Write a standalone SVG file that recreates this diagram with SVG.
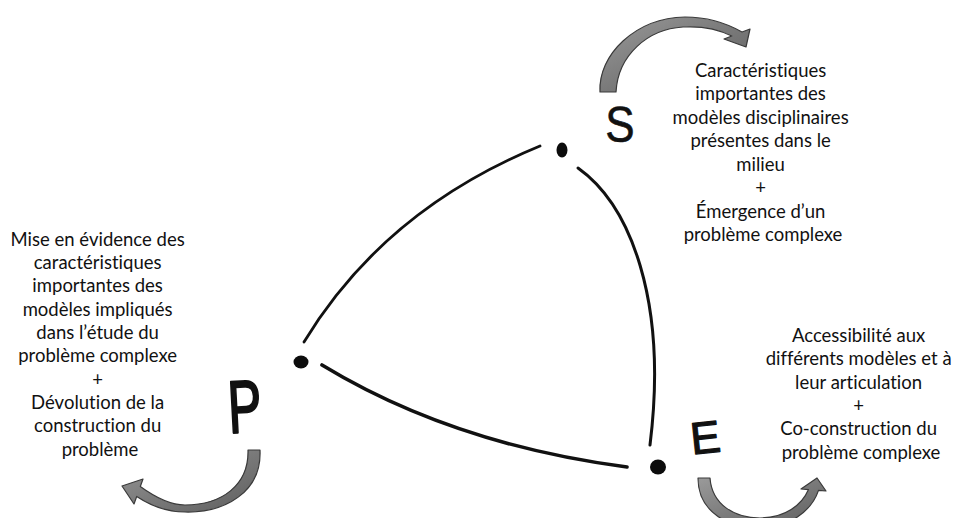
<svg xmlns="http://www.w3.org/2000/svg" width="957" height="518" viewBox="0 0 957 518">
<defs>
<linearGradient id="arrowFill" x1="0" y1="0" x2="1" y2="1">
<stop offset="0" stop-color="#9a9a9a"/>
<stop offset="0.5" stop-color="#7a7a7a"/>
<stop offset="1" stop-color="#5e5e5e"/>
</linearGradient>
</defs>
<style>
.lbl{font-family:Lato,"Open Sans","Liberation Sans",sans-serif;font-size:18.5px;fill:#111;text-anchor:middle;font-variant-ligatures:none}
.edge{fill:none;stroke:#111;stroke-linecap:round}
.dot{fill:#0c0c0c}
.cyc{fill:url(#arrowFill);stroke:#3a3a3a;stroke-width:1.2;stroke-linejoin:round}
.letter{font-family:"Liberation Sans",Arial,sans-serif;fill:#111;stroke:#111;stroke-linejoin:round;text-anchor:middle}
</style>
<rect width="957" height="518" fill="#ffffff"/>

<g id="connectors">
<path class="edge" stroke-width="2.8" d="M540,146 Q384,210 304,342"/>
<path class="edge" stroke-width="3" d="M578,168 C630,205 668,300 650,445"/>
<path class="edge" stroke-width="3.6" d="M322,365 Q452,444 627,467"/>
</g>

<g id="cycle-arrows">
<path class="cyc" d="M600,92 C598,55 635,18 685,17 C708,17 728,24 742,32 L750,29 L746,47 L724,39 L731.8,36 C718,29 700,26 683,27 C648,29 618,55 616,92 Z"/>
<path class="cyc" d="M260,450 C262,492 225,513 185,512 C165,512 148,504 136.7,496.5 L134,504 L122,486 L143,479 L140.3,486.5 C152,495 168,505 185,505 C222,505 249,485 248,450 Z"/>
<path class="cyc" d="M698,478 C698,512 728,528 760,528 C790,528 812,510 818.5,490.4 L826,491 L817,478 L801,489 L808.5,489.6 C802,505 785,518 760,518 C735,518 712,505 710,478 Z"/>
</g>

<g id="node-S">
<ellipse class="dot" cx="562" cy="150" rx="5.5" ry="7.5"/>
<text class="letter" font-size="50" stroke-width="0.6" transform="translate(620,142) scale(0.88,1)">S</text>
<text class="lbl">
<tspan x="763" y="76.5">Caractéristiques</tspan>
<tspan x="763" y="100">importantes des</tspan>
<tspan x="763" y="123.5">modèles disciplinaires</tspan>
<tspan x="763" y="147">présentes dans le</tspan>
<tspan x="763" y="170.5">milieu</tspan>
<tspan x="763" y="194">+</tspan>
<tspan x="763" y="217.5">Émergence d’un</tspan>
<tspan x="763" y="241">problème complexe</tspan>
</text>
</g>

<g id="node-P">
<ellipse class="dot" cx="301" cy="362" rx="7.5" ry="6.5"/>
<text class="letter" font-size="74" stroke-width="2.2" transform="translate(246,432) rotate(-3) scale(0.68,1)">P</text>
<text class="lbl">
<tspan x="100" y="245.5">Mise en évidence des</tspan>
<tspan x="100" y="268.8">caractéristiques</tspan>
<tspan x="100" y="292.2">importantes des</tspan>
<tspan x="100" y="315.5">modèles impliqués</tspan>
<tspan x="100" y="338.8">dans l’étude du</tspan>
<tspan x="100" y="362.2">problème complexe</tspan>
<tspan x="100" y="385.5">+</tspan>
<tspan x="100" y="408.8">Dévolution de la</tspan>
<tspan x="100" y="432.2">construction du</tspan>
<tspan x="100" y="455.5">problème</tspan>
</text>
</g>

<g id="node-E">
<ellipse class="dot" cx="658" cy="467" rx="8" ry="7.5"/>
<text class="letter" font-size="45" stroke-width="1.2" transform="translate(707,453) rotate(-6)">E</text>
<text class="lbl">
<tspan x="861" y="342">Accessibilité aux</tspan>
<tspan x="861" y="365.3">différents modèles et à</tspan>
<tspan x="861" y="388.6">leur articulation</tspan>
<tspan x="861" y="411.9">+</tspan>
<tspan x="861" y="435.2">Co-construction du</tspan>
<tspan x="861" y="458.5">problème complexe</tspan>
</text>
</g>
</svg>
